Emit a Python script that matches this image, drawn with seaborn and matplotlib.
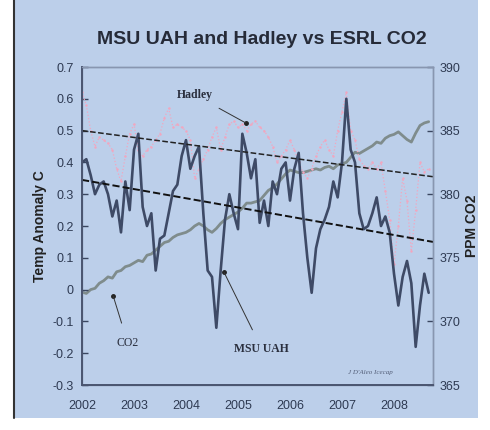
import numpy as np
import pandas as pd
import seaborn as sns
import matplotlib.pyplot as plt
from matplotlib.patches import Rectangle
from matplotlib.lines import Line2D

# monthly data, Jan 2002 .. Sep 2008
msu_uah = [0.40, 0.41, 0.36, 0.30, 0.33, 0.34, 0.30, 0.23, 0.28, 0.18, 0.34, 0.25,
           0.44, 0.49, 0.26, 0.20, 0.24, 0.06, 0.16, 0.17, 0.24, 0.31, 0.33, 0.42,
           0.47, 0.38, 0.42, 0.45, 0.24, 0.06, 0.04, -0.12, 0.06, 0.22, 0.30, 0.24,
           0.19, 0.49, 0.43, 0.35, 0.41, 0.21, 0.28, 0.20, 0.34, 0.30, 0.38, 0.40,
           0.28, 0.38, 0.43, 0.24, 0.10, -0.01, 0.13, 0.19, 0.22, 0.26, 0.34, 0.29,
           0.40, 0.60, 0.44, 0.40, 0.24, 0.19, 0.20, 0.24, 0.29, 0.20, 0.23, 0.18,
           0.05, -0.05, 0.04, 0.09, 0.02, -0.18, -0.05, 0.05, -0.01]
hadley = [0.62, 0.58, 0.50, 0.45, 0.48, 0.47, 0.46, 0.44, 0.38, 0.34, 0.42, 0.49,
          0.52, 0.44, 0.42, 0.44, 0.45, 0.47, 0.49, 0.54, 0.57, 0.51, 0.52, 0.51,
          0.50, 0.47, 0.35, 0.38, 0.41, 0.44, 0.48, 0.51, 0.44, 0.48, 0.52, 0.53,
          0.51, 0.52, 0.50, 0.52, 0.53, 0.51, 0.50, 0.48, 0.45, 0.40, 0.42, 0.44,
          0.47, 0.44, 0.40, 0.37, 0.35, 0.38, 0.42, 0.45, 0.47, 0.44, 0.42, 0.50,
          0.56, 0.62, 0.50, 0.47, 0.41, 0.39, 0.38, 0.40, 0.38, 0.40, 0.31, 0.22,
          0.08, 0.20, 0.35, 0.28, 0.12, 0.25, 0.40, 0.37, 0.38]
co2 = [372.3, 372.2, 372.5, 372.6, 373.0, 373.2, 373.5, 373.4, 373.9, 374.0, 374.3, 374.4,
       374.6, 374.8, 374.7, 375.2, 375.3, 375.6, 375.9, 376.2, 376.3, 376.6, 376.8, 376.9,
       377.0, 377.2, 377.5, 377.7, 377.5, 377.2, 377.0, 377.3, 377.7, 378.0, 378.2, 378.4,
       378.6, 378.9, 379.3, 379.3, 379.4, 379.5, 379.9, 380.3, 380.5, 380.8, 381.2, 381.6,
       381.9, 381.8, 381.7, 381.7, 381.8, 381.9, 382.0, 381.9, 382.1, 382.2, 382.0, 382.3,
       382.4, 382.5, 382.9, 383.3, 383.2, 383.4, 383.6, 383.8, 384.1, 384.0, 384.4, 384.6,
       384.7, 384.9, 384.6, 384.3, 384.1, 384.8, 385.4, 385.6, 385.7]
years = 2002 + np.arange(len(msu_uah)) / 12

# linear trends (end points)
trend_years = [2002.0, 2008.75]
hadley_trend = [0.50, 0.355]
msu_trend = [0.345, 0.15]

year_ticks = [2002, 2003, 2004, 2005, 2006, 2007, 2008]

df = pd.DataFrame({'year': years, 'msu': msu_uah, 'hadley': hadley, 'co2': co2})
dfTrend = pd.DataFrame({'year': trend_years, 'hadley': hadley_trend, 'msu': msu_trend})

sns.set_style('white')
plt.rcParams['font.family'] = ['Liberation Sans', 'DejaVu Sans']

bg = '#bccfea'
fig = plt.figure(figsize=(4.9, 4.3), dpi=100, facecolor='white')
fig.patches.append(Rectangle((15 / 490, 12 / 430), 463 / 490, 418 / 430,
                             transform=fig.transFigure, facecolor=bg, edgecolor='none', zorder=-10))
fig.lines.append(Line2D([14 / 490, 14 / 490], [12 / 430, 1], transform=fig.transFigure,
                        color='#333333', lw=1.5))

ax = fig.add_axes([82 / 490, 1 - 385 / 430, (433 - 82) / 490, (385 - 67) / 430])
ax.set_facecolor(bg)
ax2 = ax.twinx()

# CO2 on right axis
sns.lineplot(data=df, x='year', y='co2', ax=ax2, color='#7f8c8c', lw=2)
# temperature series
sns.lineplot(data=df, x='year', y='hadley', ax=ax, color='#f2a6bf', lw=0.9, ls=':',
             marker='.', markersize=3.5, markeredgewidth=0)
sns.lineplot(data=df, x='year', y='msu', ax=ax, color='#3e4a66', lw=1.9)
sns.lineplot(data=dfTrend, x='year', y='hadley', ax=ax, color='#222222', lw=1.1, ls='--')
sns.lineplot(data=dfTrend, x='year', y='msu', ax=ax, color='#111111', lw=1.4, ls='--')

ax.set_zorder(ax2.get_zorder() + 1)
ax.patch.set_visible(False)
ax2.patch.set_visible(False)

ax.set_xlim(2002, 2008.75)
ax.set_ylim(-0.3, 0.7)
ax2.set_ylim(365, 390)
ax.set_xticks(year_ticks)
ax.set_xticks(np.arange(2002.5, 2008.6, 1), minor=True)
ax.set_yticks(np.arange(-0.3, 0.71, 0.1))
ax.set_yticklabels(['%g' % round(v, 1) for v in np.arange(-0.3, 0.71, 0.1)])
ax2.set_yticks([365, 370, 375, 380, 385, 390])

ax.tick_params(axis='x', which='both', direction='inout', length=5, width=1, colors='#3a4660',
               labelsize=9, pad=8)
ax.tick_params(axis='y', direction='in', length=4, width=1, colors='#3a4660', labelsize=9, pad=6)
ax2.tick_params(axis='y', direction='in', length=4, width=1, colors='#3a4660', labelsize=9, pad=5)
for lab in ax.get_xticklabels() + ax.get_yticklabels() + ax2.get_yticklabels():
    lab.set_color('#2e3a52')

for a in (ax, ax2):
    for s in a.spines.values():
        s.set_color('#8896b0')
        s.set_linewidth(1)
ax.spines['left'].set_color('#4a5570')
ax.spines['bottom'].set_color('#4a5570')
ax.spines['left'].set_linewidth(1.4)
ax.spines['bottom'].set_linewidth(1.4)

ax.set_xlabel('')
ax.set_ylabel('Temp Anomaly C', fontsize=10, fontweight='bold', color='#222222', labelpad=4)
ax2.set_ylabel('PPM CO2', fontsize=10, fontweight='bold', color='#222222', labelpad=3)

fig.text(262 / 490, 1 - 40 / 430, 'MSU UAH and Hadley vs ESRL CO2', ha='center', va='center',
         fontsize=14, fontweight='bold', color='#262b38')

# annotations
serif = ['Liberation Serif', 'DejaVu Serif']
ax.annotate('Hadley', xy=(2005.15, 0.524), xytext=(2004.17, 0.612), ha='center', va='center',
            fontsize=8.5, fontweight='bold', family=serif, color='#2a2f3e',
            arrowprops=dict(arrowstyle='-', color='#333333', lw=0.7, shrinkA=6, shrinkB=0))
ax.plot([2005.15], [0.524], 'o', color='#222222', markersize=2.5)
ax.annotate('CO2', xy=(2002.6, -0.02), xytext=(2002.88, -0.168), ha='center', va='center',
            fontsize=8.5, family=serif, color='#2a2f3e',
            arrowprops=dict(arrowstyle='-', color='#333333', lw=0.7, shrinkA=8, shrinkB=0))
ax.plot([2002.6], [-0.02], 'o', color='#222222', markersize=2.5)
ax.annotate('MSU UAH', xy=(2004.73, 0.055), xytext=(2005.46, -0.187), ha='center', va='center',
            fontsize=8.5, fontweight='bold', family=serif, color='#2a2f3e',
            arrowprops=dict(arrowstyle='-', color='#333333', lw=0.7, shrinkA=8, shrinkB=0))
ax.plot([2004.73], [0.055], 'o', color='#222222', markersize=2.5)
ax.text(2007.55, -0.262, "J D'Aleo Icecap", fontsize=5, style='italic', color='#55607a',
        ha='center', va='center', family=serif)

fig.savefig('out.png', dpi=100, facecolor='white')
